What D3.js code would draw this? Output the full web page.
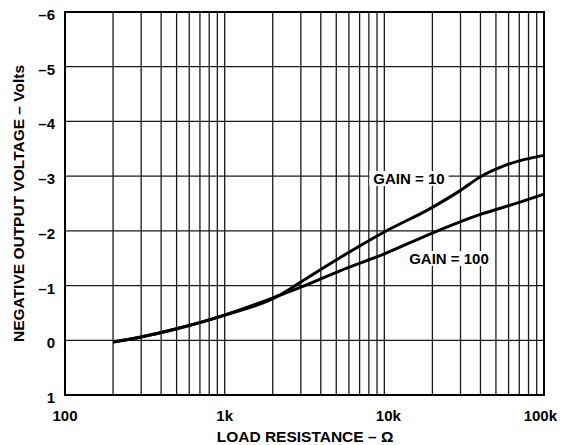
<!DOCTYPE html>
<html><head><meta charset="utf-8">
<script src="https://cdn.jsdelivr.net/npm/d3@7"></script>
<style>body{margin:0;background:#fff}svg{display:block}text{font-family:"Liberation Sans",Arial,sans-serif;font-weight:bold;fill:#000}</style>
</head><body>
<script>
const xTicks = [100, 1000, 10000, 100000];
const xTickLabels = ["100", "1k", "10k", "100k"];
const yTicks = [-6, -5, -4, -3, -2, -1, 0, 1];
const yTickLabels = ["–6", "–5", "–4", "–3", "–2", "–1", "0", "1"];
const gain10R = [200, 300, 500, 1000, 2200, 2700, 3500, 5270, 10000, 20000, 30000, 40000, 55000, 70000, 100000];
const gain10V = [0.03, -0.06, -0.21, -0.46, -0.82, -0.98, -1.19, -1.51, -1.98, -2.43, -2.74, -2.99, -3.18, -3.28, -3.38];
const gain100R = [200, 300, 500, 1000, 2200, 3000, 5270, 10000, 20000, 40000, 70000, 100000];
const gain100V = [0.03, -0.06, -0.21, -0.46, -0.82, -0.97, -1.27, -1.58, -1.96, -2.30, -2.52, -2.67];
const seriesLabels = ["GAIN = 10", "GAIN = 100"];
const xTitle = "LOAD RESISTANCE – Ω";
const yTitle = "NEGATIVE OUTPUT VOLTAGE – Volts";

const W = 572, H = 445;
const m = {l: 65, r: 28, t: 12, b: 50};
const svg = d3.select("body").append("svg").attr("width", W).attr("height", H);
const x = d3.scaleLog().domain([100, 100000]).range([m.l, W - m.r]);
const y = d3.scaleLinear().domain([-6, 1]).range([m.t, H - m.b]);

// grid
const minor = [];
for (let d = 100; d < 100000; d *= 10) for (let k = 2; k <= 9; k++) minor.push(d * k);
const g = svg.append("g");
g.selectAll(".vm").data(minor.concat([1000, 10000])).enter().append("line")
  .attr("x1", d => x(d)).attr("x2", d => x(d)).attr("y1", y(-6)).attr("y2", y(1))
  .attr("stroke", "#1a1a1a").attr("stroke-width", 1.3);
g.selectAll(".h").data(yTicks).enter().append("line")
  .attr("x1", x(100)).attr("x2", x(100000)).attr("y1", d => y(d)).attr("y2", d => y(d))
  .attr("stroke", "#1a1a1a").attr("stroke-width", 1.3);

// frame
svg.append("rect").attr("x", x(100)).attr("y", y(-6)).attr("width", x(100000) - x(100)).attr("height", y(1) - y(-6))
  .attr("fill", "none").attr("stroke", "#000").attr("stroke-width", 2);

// curves
const line = d3.line().x(d => x(d[0])).y(d => y(d[1])).curve(d3.curveMonotoneX);
[[gain10R, gain10V], [gain100R, gain100V]].forEach(([R, V]) => {
  svg.append("path").datum(R.map((r, i) => [r, V[i]])).attr("d", line)
    .attr("fill", "none").attr("stroke", "#000").attr("stroke-width", 3).attr("stroke-linejoin", "round");
});

// series labels with white background
function label(txt, cx, baseY) {
  const t = svg.append("text").attr("x", cx).attr("y", baseY).attr("text-anchor", "middle")
    .attr("font-size", 15).text(txt);
  const b = t.node().getBBox();
  svg.insert("rect", () => t.node()).attr("x", b.x - 4).attr("y", b.y + 1).attr("width", b.width + 8).attr("height", b.height - 2).attr("fill", "#fff");
}
label(seriesLabels[0], 409, 184);
label(seriesLabels[1], 449, 264);

// axes tick labels
const last = xTicks.length - 1;
svg.selectAll(".xt").data(xTicks).enter().append("text")
  .attr("x", (d, i) => i === last ? x(d) + 13 : x(d) + (i === 2 ? 4 : 0))
  .attr("y", y(1) + 26).attr("text-anchor", (d, i) => i === last ? "end" : "middle").attr("font-size", 15)
  .text((d, i) => xTickLabels[i]);
svg.selectAll(".yt").data(yTicks).enter().append("text")
  .attr("x", 55).attr("y", d => y(d) + 8).attr("text-anchor", "end").attr("font-size", 15)
  .text((d, i) => yTickLabels[i]);

svg.append("text").attr("x", 305).attr("y", 442).attr("text-anchor", "middle").attr("font-size", 15.5).text(xTitle);
svg.append("text").attr("transform", `translate(24,${(y(-6) + y(1)) / 2}) rotate(-90)`).attr("text-anchor", "middle").attr("font-size", 15.5).text(yTitle);
</script>
</body></html>
